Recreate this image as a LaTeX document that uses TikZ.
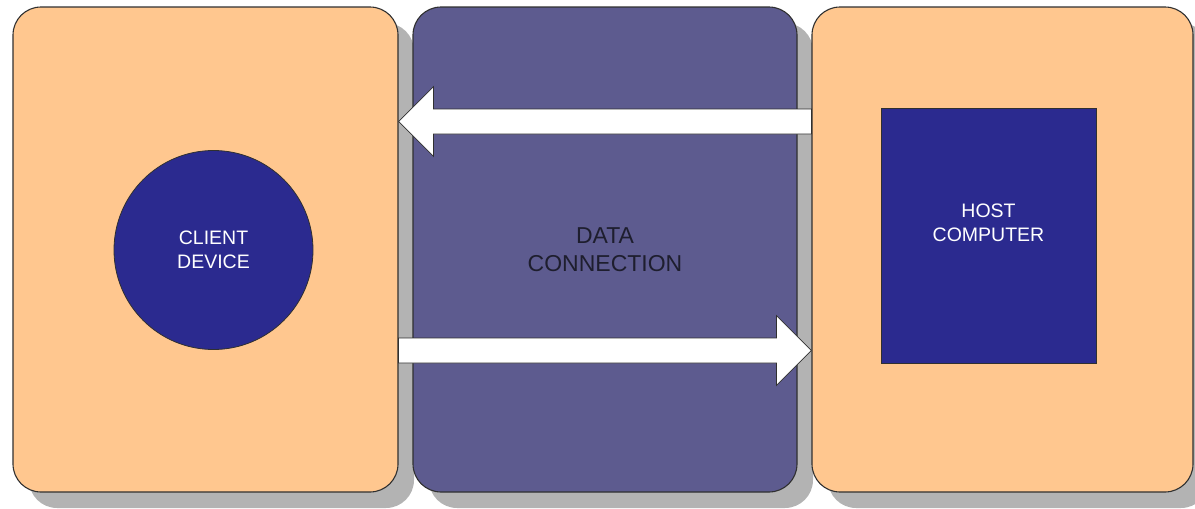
\documentclass[tikz,border=0pt]{standalone}
\usepackage{fontspec}
\setmainfont{Liberation Sans}
\usetikzlibrary{shadows,calc}
\definecolor{peach}{HTML}{FFC78F}
\definecolor{linkviolet}{HTML}{5D5B8F}
\definecolor{deepblue}{HTML}{2B2A8F}
\definecolor{shadowgrey}{HTML}{B3B3B3}
\definecolor{edgegrey}{HTML}{303030}
\definecolor{inktext}{HTML}{1E1E2E}
\tikzset{
  panel/.style={rectangle, rounded corners=28pt, draw=edgegrey, line width=1.1pt,
    inner sep=0pt,
    drop shadow={shadow xshift=16pt, shadow yshift=-16pt, fill=shadowgrey, opacity=1}},
  unit/.style={fill=deepblue, draw=edgegrey, line width=0.8pt, inner sep=0pt},
  whitelabel/.style={text=white, align=center,
    font=\fontsize{19.5}{24}\selectfont},
  fatarrow/.style={draw=edgegrey, line width=0.7pt, fill=white, line join=miter,
    to path={let \p1=(\tikztostart), \p2=(\tikztotarget),
                 \p3=($(\p2)!35pt!(\p1)$) in
      (\x1,{\y1+12.5pt}) -- (\x3,{\y1+12.5pt}) -- (\x3,{\y1+35pt})
      -- (\x2,\y2) -- (\x3,{\y1-35pt}) -- (\x3,{\y1-12.5pt})
      -- (\x1,{\y1-12.5pt}) -- cycle}}
}
\begin{document}
\begin{tikzpicture}[x=1pt,y=-1pt]
\useasboundingbox (0,0) rectangle (1195,509);

% three panels, each with its drop shadow
\node[panel, fill=peach, minimum width=385pt, minimum height=485pt]
  (clientpanel) at (205.5,249.5) {};
\node[panel, fill=linkviolet, minimum width=384pt, minimum height=485pt,
  text=inktext, align=center, font=\fontsize{23}{28}\selectfont]
  (link) at (605,249.5) {DATA\\CONNECTION};
\node[panel, fill=peach, minimum width=381pt, minimum height=485pt]
  (hostpanel) at (1002.5,249.5) {};

% the devices
\node[unit, circle, minimum size=199pt, whitelabel] (client) at (213.5,250)
  {CLIENT\\DEVICE};
\node[unit, rectangle, minimum width=215pt, minimum height=255pt,
  label={[whitelabel, yshift=12.5pt]center:{HOST\\COMPUTER}}]
  (host) at (988.5,235.5) {};

% data flow in both directions
\coordinate (toplane) at (0,121.5);
\coordinate (botlane) at (0,350.5);
\draw[fatarrow] (hostpanel.west |- toplane) to (clientpanel.east |- toplane);
\draw[fatarrow] (clientpanel.east |- botlane) to (hostpanel.west |- botlane);
\end{tikzpicture}
\end{document}
